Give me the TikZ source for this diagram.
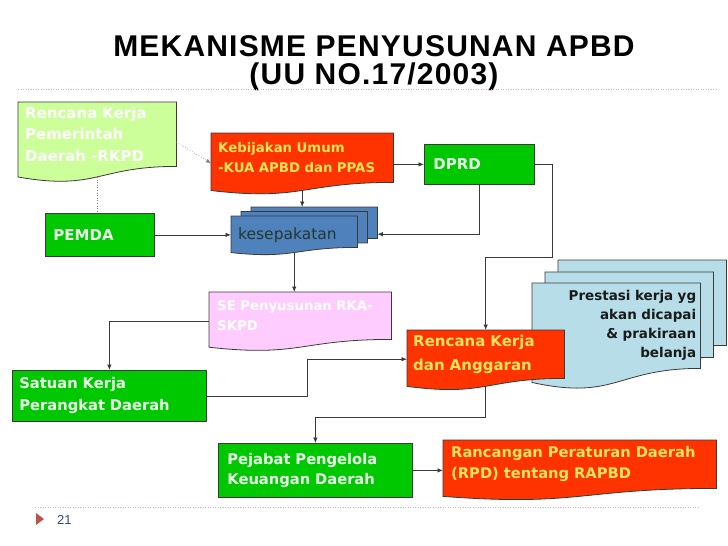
\documentclass[tikz,border=0pt]{standalone}
\usepackage{fontspec}
\setmainfont{DejaVu Sans}
\newfontfamily\titlefont[LetterSpace=4]{Liberation Sans}
\newfontfamily\numfont{Liberation Sans}
\usetikzlibrary{arrows.meta,calc,backgrounds}
\definecolor{lgreen}{HTML}{CCFF99}
\definecolor{bred}{HTML}{FF3300}
\definecolor{bgreen}{HTML}{00C800}
\definecolor{bblue}{HTML}{4F81BD}
\definecolor{bpink}{HTML}{FFCCFF}
\definecolor{lblue}{HTML}{B7DEE8}
\definecolor{ytext}{HTML}{FFE45C}
\definecolor{gtext}{HTML}{EAFFEA}
\definecolor{ktext}{HTML}{23392B}
\definecolor{ptext}{HTML}{1A1A1A}
\definecolor{linec}{HTML}{3A3A3A}
\definecolor{sepc}{HTML}{D8B4B4}
\definecolor{trired}{HTML}{C0504D}
\definecolor{numc}{HTML}{2E4A7A}
\tikzset{
  box/.style={rectangle, anchor=north west, inner xsep=7pt, inner ysep=0pt, align=left},
  rectbox/.style={box, draw=linec, line width=0.8pt, fill=bgreen, text=gtext},
  docline/.style={draw=linec, line width=0.8pt},
  conn/.style={draw=linec, line width=0.8pt, -{Latex[length=5.5pt,width=4.5pt]}},
  dotconn/.style={draw=gray, line width=0.6pt, dotted, -{Latex[length=5pt,width=4pt]}},
  dotline/.style={draw=gray, line width=0.6pt, dotted},
  sepline/.style={draw=sepc, line width=0.8pt, dash pattern=on 1.2pt off 1.3pt},
}
\newcommand\docbg[2]{%
  \path[docline,#2] let \p1=(#1.north west), \p2=(#1.south east) in
    (\x1,\y1) -- (\x2,\y1) -- (\x2,\y2)
    .. controls ({0.5*\x1+0.5*\x2},\y2) and ({0.5*\x1+0.5*\x2},{\y2-0.380*(\y1-\y2)}) ..
    (\x1,{\y2-0.1646*(\y1-\y2)}) -- cycle;}
\begin{document}
\begin{tikzpicture}[x=1pt,y=-1pt]
\useasboundingbox (0,0) rectangle (728,546);

% title
\node[anchor=north, inner sep=0pt, align=center, font=\titlefont\bfseries\fontsize{30}{28}\selectfont] (title) at (374,35.5)
  {MEKANISME PENYUSUNAN APBD\\(UU NO.17/2003)};
\draw[sepline] (18,89) -- (716,89);
\draw[sepline] (35,507) -- (700,507);
\fill[trired] (36,513) -- (44,519) -- (36,525) -- cycle;
\node[anchor=west, inner sep=0pt, text=numc, font=\numfont\fontsize{13}{15}\selectfont] (pnum) at (57,519.5) {21};

% document-shaped nodes
\node[box, text width=144pt, minimum height=64pt, text=white, font=\bfseries\fontsize{15}{21.5}\selectfont] (rkpd) at (18,102)
  {Rencana Kerja\\Pemerintah\\Daerah -RKPD};
\node[box, text width=168pt, minimum height=49pt, text=ytext, font=\bfseries\fontsize{13.3}{20}\selectfont] (kua) at (211,133)
  {Kebijakan Umum\\-KUA APBD dan PPAS};
\node[box, text width=112pt, minimum height=31pt] (kesB) at (251,207) {};
\node[box, text width=112pt, minimum height=31pt] (kesM) at (241,211.5) {};
\node[box, text width=112pt, minimum height=31pt, text=ktext, font=\fontsize{15.5}{18}\selectfont] (kesF) at (231,216) {\raisebox{-4pt}[11pt][3pt]{kesepakatan}};
\node[box, inner xsep=8pt, text width=166pt, minimum height=47pt, text=white, font=\bfseries\fontsize{13.3}{19.5}\selectfont] (se) at (209,292)
  {SE Penyusunan RKA-\\SKPD};
\node[box, inner xsep=4pt, text width=160pt, minimum height=85pt] (preB) at (558,260) {};
\node[box, inner xsep=4pt, text width=160pt, minimum height=85pt] (preM) at (545,272) {};
\node[box, inner xsep=4pt, text width=160pt, minimum height=85pt, align=right, text=ptext, font=\bfseries\fontsize{13.5}{19}\selectfont] (preF) at (532,283)
  {Prestasi kerja yg\\akan dicapai\\\& prakiraan\\belanja};
\node[box, inner xsep=6pt, text width=145pt, minimum height=48pt, text=ytext, font=\bfseries\fontsize{15}{24}\selectfont] (rka) at (407,330)
  {Rencana Kerja\\dan Anggaran};
\node[box, inner xsep=8pt, text width=257pt, minimum height=48pt, text=ytext, font=\bfseries\fontsize{14.7}{21}\selectfont] (rapbd) at (443,440)
  {Rancangan Peraturan Daerah\\(RPD) tentang RAPBD};

% rectangle nodes
\node[rectbox, inner xsep=9pt, text width=92pt, minimum height=40pt, font=\bfseries\fontsize{15}{18}\selectfont] (dprd) at (424,144) {DPRD};
\node[rectbox, inner xsep=8pt, text width=93pt, minimum height=43pt, font=\bfseries\fontsize{15}{18}\selectfont] (pemda) at (45,213) {PEMDA};
\node[rectbox, text width=180pt, minimum height=51pt, font=\bfseries\fontsize{14.7}{22}\selectfont] (satuan) at (12,370)
  {Satuan Kerja\\Perangkat Daerah};
\node[rectbox, inner xsep=9pt, text width=176pt, minimum height=54pt, font=\bfseries\fontsize{14.7}{20.5}\selectfont] (pejabat) at (218,443)
  {Pejabat Pengelola\\Keuangan Daerah};

% shape fills behind the texts
\begin{scope}[on background layer]
  \fill[white] (0,0) rectangle (728,546);
  \docbg{rkpd}{fill=lgreen}
  \docbg{kua}{fill=bred}
  \docbg{kesB}{fill=bblue}
  \docbg{kesM}{fill=bblue}
  \docbg{kesF}{fill=bblue}
  \docbg{se}{fill=bpink}
  \docbg{preB}{fill=lblue}
  \docbg{preM}{fill=lblue}
  \docbg{preF}{fill=lblue}
  \docbg{rka}{fill=bred}
  \docbg{rapbd}{fill=bred}
\end{scope}

% connectors
\draw[dotconn] ([yshift=-8pt]rkpd.east) -- ([yshift=-5.5pt]kua.west);
\draw[dotline] ([yshift=-10.5pt]rkpd.south) -- (rkpd.south |- pemda.north);
\draw[conn] (kua.east |- dprd.west) -- (dprd.west);
\draw[conn] ([yshift=-8pt]kua.south) -- (kua.south |- kesB.north);
\draw[conn] (pemda.east) -- (pemda.east -| kesF.west);
\draw[conn] (dprd.south) |- ([yshift=-11.5pt]kesB.east);
\draw[conn] ([yshift=-5pt]kesF.south) -- (kesF.south |- se.north);
\draw[conn] ([yshift=-6pt]se.west) -| (satuan.north);
\draw[conn] (satuan.east) -- ++(101,0) |- ([yshift=-5pt]rka.west);
\draw[conn] (dprd.east) -- ++(18,0) -- ++(0,93) -| (rka.north);
\draw[conn] ([yshift=-8pt]rka.south) -- ++(0,31) -| (pejabat.north);
\draw[conn] (pejabat.east) -- (pejabat.east -| rapbd.west);
\end{tikzpicture}
\end{document}
